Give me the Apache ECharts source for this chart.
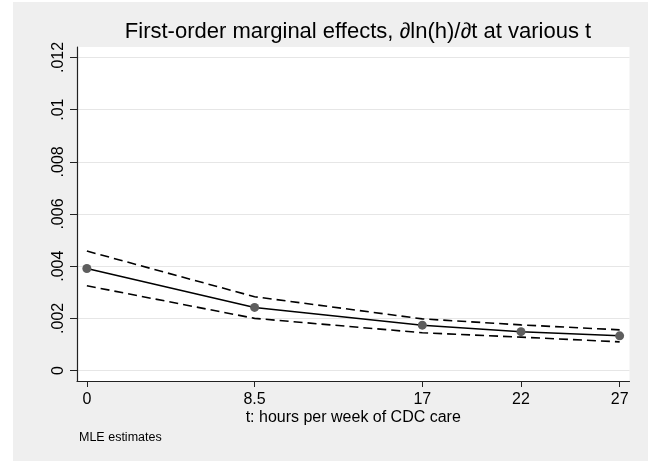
<!DOCTYPE html>
<html>
<head>
<meta charset="utf-8">
<script src="https://cdn.jsdelivr.net/npm/echarts@6/dist/echarts.min.js"></script>
<style>
  html, body { margin: 0; padding: 0; background: #ffffff; }
  #bg { position: absolute; left: 13px; top: 2px; width: 635px; height: 459px; background: #efefef; }
  #chart { position: absolute; left: 0; top: 0; width: 648px; height: 461px; }
</style>
</head>
<body>
<div id="bg"></div>
<div id="chart"></div>
<script>
// Data
const tValues  = [0, 8.5, 17, 22, 27];
const estimate = [0.00391, 0.00242, 0.00174, 0.00149, 0.00133];
const upperCI  = [0.00458, 0.00283, 0.00198, 0.00175, 0.00156];
const lowerCI  = [0.00325, 0.00200, 0.00145, 0.00128, 0.00110];
const xTicks = [0, 8.5, 17, 22, 27];
const yTicks = [0, 0.002, 0.004, 0.006, 0.008, 0.010, 0.012];

const pairs = arr => tValues.map((t, i) => [t, arr[i]]);
const fmtY = v => {
  if (Math.abs(v) < 1e-12) return '0';
  return String(parseFloat(v.toFixed(4))).replace(/^0\./, '.');
};
const FONT = '"Liberation Sans", Arial, Helvetica, sans-serif';

const chart = echarts.init(document.getElementById('chart'), null, { renderer: 'canvas' });
chart.setOption({
  backgroundColor: 'transparent',
  animation: false,
  title: {
    text: 'First-order marginal effects, \u2202ln(h)/\u2202t at various t',
    left: 353, top: 16, textAlign: 'center',
    textStyle: { fontFamily: FONT, fontSize: 22, fontWeight: 'normal', color: '#000' }
  },
  graphic: [{
    type: 'text', left: 79, top: 431,
    style: { text: 'MLE estimates', fontFamily: FONT, fontSize: 12.5, fill: '#000' }
  }],
  grid: { left: 77, top: 47, right: 18.5, bottom: 80, show: true, backgroundColor: '#ffffff', borderWidth: 0 },
  xAxis: {
    type: 'value', min: -0.5, max: 27.5,
    name: 't: hours per week of CDC care', nameLocation: 'middle', nameGap: 29,
    nameMoveOverlap: false,
    nameTextStyle: { fontFamily: FONT, fontSize: 16, color: '#000' },
    axisLine: { show: true, onZero: false, lineStyle: { color: '#222', width: 1.2 } },
    axisTick: { show: true, length: 6, customValues: xTicks, lineStyle: { color: '#222', width: 1 } },
    axisLabel: { customValues: xTicks, margin: 11, fontFamily: FONT, fontSize: 16, color: '#000' },
    splitLine: { show: false }
  },
  yAxis: {
    type: 'value', min: -0.0004, max: 0.0124,
    axisLine: { show: true, onZero: false, lineStyle: { color: '#222', width: 1.2 } },
    axisTick: { show: true, length: 7, customValues: yTicks, lineStyle: { color: '#222', width: 1 } },
    axisLabel: { customValues: yTicks, rotate: 90, margin: 10, formatter: fmtY, fontFamily: FONT, fontSize: 16, color: '#000' },
    splitLine: { show: true, lineStyle: { color: '#e6e6e6', width: 1.2 } }
  },
  series: [
    {
      name: 'upper', type: 'line', data: pairs(upperCI), showSymbol: false, symbol: 'none',
      lineStyle: { color: '#000', width: 1.6, type: [9, 5] }, z: 2
    },
    {
      name: 'lower', type: 'line', data: pairs(lowerCI), showSymbol: false, symbol: 'none',
      lineStyle: { color: '#000', width: 1.6, type: [9, 5] }, z: 2
    },
    {
      name: 'estimate', type: 'line', data: pairs(estimate),
      symbol: 'circle', symbolSize: 9,
      itemStyle: { color: '#5e5e5e' },
      lineStyle: { color: '#000', width: 1.5 }, z: 3
    }
  ]
});
</script>
</body>
</html>
